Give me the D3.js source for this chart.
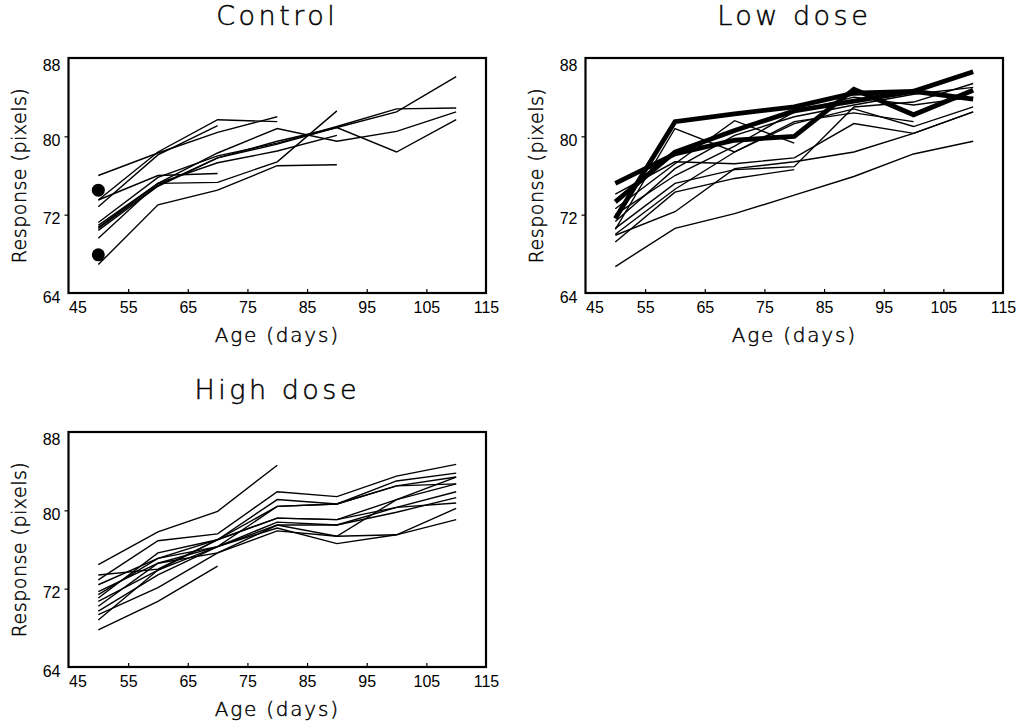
<!DOCTYPE html>
<html>
<head>
<meta charset="utf-8">
<script src="https://cdn.jsdelivr.net/npm/d3@7"></script>
<style>
  body { margin: 0; background: #fff; }
  text { font-family: "DejaVu Sans", sans-serif; fill: #000; }
  .tick text { font-family: "Liberation Sans", Arial, sans-serif; }
  .label { font-weight: 200; stroke: #000; stroke-width: 0.45px; }
</style>
</head>
<body>
<svg id="chart" width="1017" height="722"></svg>
<script>
// measurement ages (days)
const ages = [50, 60, 70, 80, 90, 100, 110];
const xTicks = [45, 55, 65, 75, 85, 95, 105, 115];
const yTicks = [64, 72, 80, 88];
const titles = ["Control", "Low dose", "High dose"];
const xLabel = "Age (days)";
const yLabel = "Response (pixels)";

// one row per animal, values at ages 50..110, shorter rows = dropped out
const control = [
  [76.0, 78.3, 80.4, 82.0],
  [73.5, 78.4, 81.7, 81.5],
  [72.8, 78.1, 81.1],
  [73.5, 76.0, 76.2],
  [70.9, 75.2, 78.3, 80.8, 79.5, 80.5, 82.5],
  [70.6, 75.0, 77.8, 79.5, 80.9, 78.4, 81.7],
  [70.4, 74.9, 77.8, 79.2, 80.9, 82.5, 86.1],
  [69.6, 75.2, 77.3, 78.5, 80.1],
  [66.9, 73.0, 74.5, 77.0, 77.1],
  [70.7, 75.2, 75.3, 77.4, 82.6],
  [71.2, 75.8, 78.0, 79.3, 81.0, 82.8, 82.9]
];
// animals seen only once (age 50)
const controlSingles = [74.5, 67.9];

const lowThin = [
  [66.7, 70.6, 72.1, 74.0, 75.9, 78.2, 79.5],
  [69.2, 74.3, 75.7, 76.6],
  [69.9, 72.3, 76.7, 77.4, 78.4, 80.3, 82.5],
  [70.6, 75.2, 76.6, 76.9, 83.0, 83.5, 85.4],
  [74.1, 77.4, 77.2, 77.8, 81.3, 80.3, 82.5],
  [70.5, 80.8, 78.4, 81.3, 82.8, 81.0, 83.0],
  [72.6, 77.2, 81.6, 79.3],
  [71.3, 76.7, 80.1, 82.0, 83.2, 84.3, 85.0],
  [70.0, 74.6, 78.4, 81.5, 82.4, 81.5],
  [72.0, 76.0, 79.0, 82.5, 84.0, 83.2, 84.0]
];
const lowBold = [
  [71.6, 81.5, 82.3, 83.0, 84.4, 84.6, 86.6],
  [75.2, 78.2, 79.6, 80.0, 84.8, 82.2, 84.7],
  [73.3, 78.4, 80.6, 82.6, 83.6, 84.6, 83.8]
];

const high = [
  [74.45, 77.8, 79.9, 84.6],
  [67.8, 70.7, 74.3],
  [72.9, 76.9, 77.6, 81.9, 81.4, 83.5, 84.7],
  [72.4, 75.1, 77.0, 81.1, 80.65, 83.0, 83.8],
  [71.7, 74.6, 76.3, 80.4, 80.65, 82.5, 82.7],
  [71.05, 75.65, 77.0, 79.2, 79.05, 81.1, 82.7],
  [70.7, 73.9, 76.3, 78.8, 78.5, 80.3, 81.9],
  [70.2, 74.6, 75.65, 78.5, 77.35, 81.1, 83.4],
  [69.7, 73.4, 76.3, 78.2, 76.6, 77.5, 80.2],
  [69.35, 72.1, 75.65, 77.9, 77.35, 77.5, 79.05],
  [68.8, 73.9, 77.0, 79.2, 79.05, 80.3, 80.75],
  [71.4, 75.1, 76.3, 78.5, 78.5, 79.8, 81.3],
  [73.4, 74.0, 77.0, 80.4, 80.65, 82.5, 83.4]
];

const W = 417.5, H = 235;
const panels = [
  { title: titles[0], left: 68.5, top: 58, thin: control, bold: [], dots: controlSingles },
  { title: titles[1], left: 585.5, top: 58, thin: lowThin, bold: lowBold, dots: [] },
  { title: titles[2], left: 68.5, top: 432, thin: high, bold: [], dots: [] }
];

const svg = d3.select("#chart");

const x = d3.scaleLinear().domain([45, 115]).range([0, W]);
const y = d3.scaleLinear().domain([64, 88]).range([H, 0]);

const line = d3.line()
  .x((d, i) => x(ages[i]))
  .y(d => y(d));

panels.forEach(p => {
  const g = svg.append("g").attr("transform", `translate(${p.left},${p.top})`);

  g.append("g").selectAll("path")
    .data(p.thin)
    .join("path")
    .attr("d", line)
    .attr("fill", "none")
    .attr("stroke", "#000")
    .attr("stroke-width", 1.4);

  g.append("g").selectAll("path")
    .data(p.bold)
    .join("path")
    .attr("d", line)
    .attr("fill", "none")
    .attr("stroke", "#000")
    .attr("stroke-width", 4.8);

  g.append("g").selectAll("circle")
    .data(p.dots)
    .join("circle")
    .attr("cx", x(ages[0]))
    .attr("cy", d => y(d))
    .attr("r", 6.5)
    .attr("fill", "#000");

  g.append("rect")
    .attr("width", W)
    .attr("height", H)
    .attr("fill", "none")
    .attr("stroke", "#000")
    .attr("stroke-width", 2.2);

  // x axis: short ticks pointing inwards
  g.append("g")
    .attr("transform", `translate(0,${H})`)
    .call(d3.axisBottom(x).tickValues(xTicks).tickSize(-4).tickPadding(0))
    .call(a => {
      a.select(".domain").remove();
      a.attr("font-family", null).attr("font-size", null);
      a.selectAll(".tick line").attr("stroke-width", 1.2)
        .filter(d => d === 45 || d === 115).remove();
      a.selectAll(".tick text")
        .attr("y", 20).attr("dy", null)
        .style("font-size", "16px")
        .attr("text-anchor", d => d === 45 ? "start" : "middle");
    });

  // y axis: short ticks pointing outwards
  g.append("g")
    .call(d3.axisLeft(y).tickValues(yTicks).tickSize(4).tickPadding(4))
    .call(a => {
      a.select(".domain").remove();
      a.attr("font-family", null).attr("font-size", null);
      a.selectAll(".tick line").attr("stroke-width", 1.2)
        .filter(d => d === 64 || d === 88).remove();
      a.selectAll(".tick text")
        .attr("dy", d => d === 88 ? 12 : 9)
        .style("font-size", "16px");
    });

  g.append("text")
    .attr("class", "label")
    .attr("x", W / 2)
    .attr("y", -33.5)
    .attr("text-anchor", "middle")
    .style("font-size", "27px")
    .style("letter-spacing", "3.5px")
    .text(p.title);

  g.append("text")
    .attr("class", "label")
    .attr("x", W / 2)
    .attr("y", H + 49)
    .attr("text-anchor", "middle")
    .style("font-size", "20px")
    .style("letter-spacing", "1.8px")
    .text(xLabel);

  g.append("text")
    .attr("class", "label")
    .attr("transform", `translate(-42.5,${H / 2}) rotate(-90)`)
    .attr("text-anchor", "middle")
    .style("font-size", "19px")
    .style("letter-spacing", "0.5px")
    .text(yLabel);
});
</script>
</body>
</html>
